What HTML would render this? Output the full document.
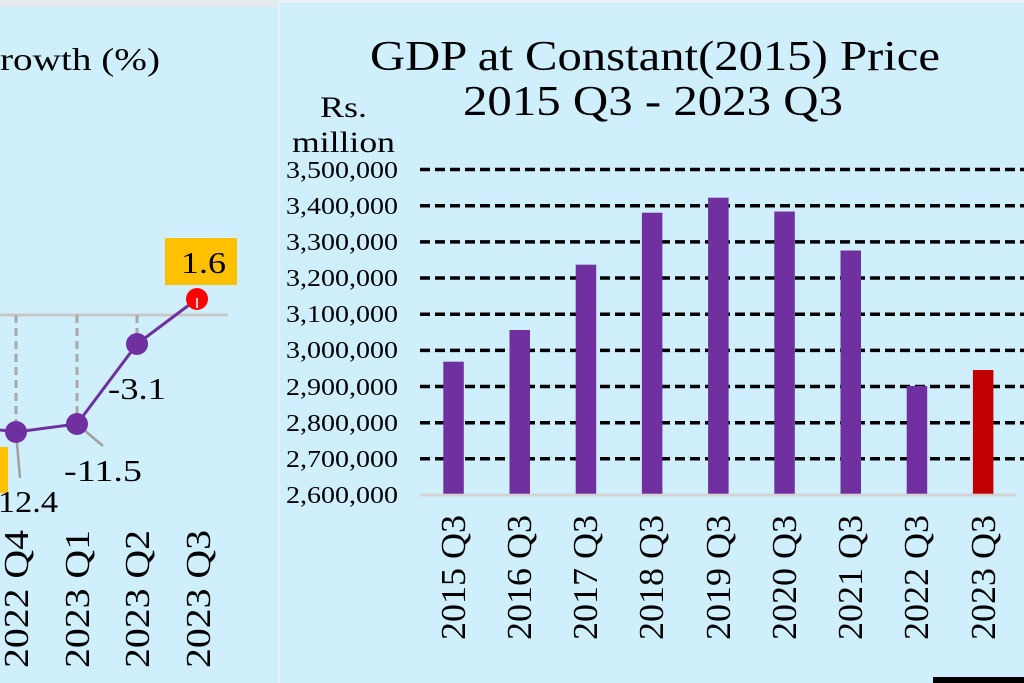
<!DOCTYPE html>
<html><head><meta charset="utf-8"><style>
html,body{margin:0;padding:0;background:#d0effd;}
svg{display:block;font-family:"Liberation Serif",serif;}
</style></head><body>
<svg width="1024" height="683" viewBox="0 0 1024 683" xmlns="http://www.w3.org/2000/svg">
<rect width="1024" height="683" fill="#d0effd"/>
<rect x="0" y="0" width="277" height="7" fill="#e4ebee"/>
<rect x="278" y="0" width="2" height="683" fill="#e8f2f6"/>
<rect x="280" y="0" width="744" height="3" fill="#e8f2f6"/>
<text x="0" y="70" font-size="32" textLength="160" lengthAdjust="spacingAndGlyphs">rowth (%)</text>
<line x1="0" y1="315" x2="228" y2="315" stroke="#c8c8c8" stroke-width="3"/>
<g stroke="#a8a8a8" stroke-width="3" stroke-dasharray="8,5">
<line x1="16" y1="315" x2="16" y2="432"/>
<line x1="77" y1="315" x2="77" y2="424"/>
<line x1="137" y1="315" x2="137" y2="344"/>
</g>
<polyline points="0,430 16,432 77,424 137,344 197,299" fill="none" stroke="#7030a0" stroke-width="3"/>
<g stroke="#a0a0a0" stroke-width="2.5">
<line x1="16" y1="432" x2="20" y2="478"/>
<line x1="77" y1="424" x2="103" y2="446"/>
<line x1="137" y1="344" x2="137" y2="335"/>
</g>
<circle cx="16" cy="432" r="11" fill="#7030a0"/>
<circle cx="77" cy="424" r="11" fill="#7030a0"/>
<circle cx="137" cy="344" r="11" fill="#7030a0"/>
<circle cx="197" cy="299" r="11" fill="#ff0000"/>
<line x1="197" y1="298" x2="197" y2="308" stroke="#d0d0d0" stroke-width="2"/>
<rect x="0" y="447" width="8" height="46" fill="#ffc000"/>
<rect x="165" y="238" width="72" height="47" fill="#ffc000"/>
<text x="181" y="273" font-size="31" textLength="45" lengthAdjust="spacingAndGlyphs">1.6</text>
<text x="108" y="399" font-size="31" textLength="58" lengthAdjust="spacingAndGlyphs">-3.1</text>
<text x="64" y="481" font-size="31" textLength="78" lengthAdjust="spacingAndGlyphs">-11.5</text>
<text x="-2" y="512" font-size="31" textLength="60" lengthAdjust="spacingAndGlyphs">12.4</text>
<g font-size="35">
<text transform="translate(28,668) rotate(-90)" textLength="138" lengthAdjust="spacingAndGlyphs">2022 Q4</text>
<text transform="translate(89,668) rotate(-90)" textLength="138" lengthAdjust="spacingAndGlyphs">2023 Q1</text>
<text transform="translate(149,668) rotate(-90)" textLength="138" lengthAdjust="spacingAndGlyphs">2023 Q2</text>
<text transform="translate(210,668) rotate(-90)" textLength="138" lengthAdjust="spacingAndGlyphs">2023 Q3</text>
</g>
<text x="370" y="70" font-size="42" textLength="570" lengthAdjust="spacingAndGlyphs">GDP at Constant(2015) Price</text>
<text x="463" y="115" font-size="42" textLength="380" lengthAdjust="spacingAndGlyphs">2015 Q3 - 2023 Q3</text>
<text x="320" y="117" font-size="30" textLength="47" lengthAdjust="spacingAndGlyphs">Rs.</text>
<text x="292" y="152" font-size="30" textLength="103" lengthAdjust="spacingAndGlyphs">million</text>
<g font-size="24" text-anchor="end">
<text x="398" y="178" textLength="112" lengthAdjust="spacingAndGlyphs">3,500,000</text>
<text x="398" y="214" textLength="112" lengthAdjust="spacingAndGlyphs">3,400,000</text>
<text x="398" y="250" textLength="112" lengthAdjust="spacingAndGlyphs">3,300,000</text>
<text x="398" y="286" textLength="112" lengthAdjust="spacingAndGlyphs">3,200,000</text>
<text x="398" y="322" textLength="112" lengthAdjust="spacingAndGlyphs">3,100,000</text>
<text x="398" y="358" textLength="112" lengthAdjust="spacingAndGlyphs">3,000,000</text>
<text x="398" y="395" textLength="112" lengthAdjust="spacingAndGlyphs">2,900,000</text>
<text x="398" y="431" textLength="112" lengthAdjust="spacingAndGlyphs">2,800,000</text>
<text x="398" y="467" textLength="112" lengthAdjust="spacingAndGlyphs">2,700,000</text>
<text x="398" y="503" textLength="112" lengthAdjust="spacingAndGlyphs">2,600,000</text>
</g>
<g stroke="#000" stroke-width="3.5" stroke-dasharray="10,5">
<line x1="420" y1="169.5" x2="1024" y2="169.5"/>
<line x1="420" y1="205.7" x2="1024" y2="205.7"/>
<line x1="420" y1="241.9" x2="1024" y2="241.9"/>
<line x1="420" y1="278" x2="1024" y2="278"/>
<line x1="420" y1="314.2" x2="1024" y2="314.2"/>
<line x1="420" y1="350.4" x2="1024" y2="350.4"/>
<line x1="420" y1="386.5" x2="1024" y2="386.5"/>
<line x1="420" y1="422.7" x2="1024" y2="422.7"/>
<line x1="420" y1="458.8" x2="1024" y2="458.8"/>
</g>
<line x1="420" y1="495" x2="1016" y2="495" stroke="#d4d4d4" stroke-width="3"/>
<g fill="#7030a0">
<rect x="443.3" y="361.7" width="20.5" height="132"/>
<rect x="509.5" y="330" width="20.5" height="163.7"/>
<rect x="575.7" y="264.7" width="20.5" height="229"/>
<rect x="641.9" y="212.7" width="20.5" height="281"/>
<rect x="708.1" y="197.7" width="20.5" height="296"/>
<rect x="774.3" y="211.5" width="20.5" height="282.2"/>
<rect x="840.5" y="250.5" width="20.5" height="243.2"/>
<rect x="906.7" y="386" width="20.5" height="107.7"/>
</g>
<rect x="972.9" y="370" width="20.5" height="123.7" fill="#c00000"/>
<g font-size="35">
<text transform="translate(465,640) rotate(-90)" textLength="125" lengthAdjust="spacingAndGlyphs">2015 Q3</text>
<text transform="translate(531,640) rotate(-90)" textLength="125" lengthAdjust="spacingAndGlyphs">2016 Q3</text>
<text transform="translate(597,640) rotate(-90)" textLength="125" lengthAdjust="spacingAndGlyphs">2017 Q3</text>
<text transform="translate(663,640) rotate(-90)" textLength="125" lengthAdjust="spacingAndGlyphs">2018 Q3</text>
<text transform="translate(730,640) rotate(-90)" textLength="125" lengthAdjust="spacingAndGlyphs">2019 Q3</text>
<text transform="translate(796,640) rotate(-90)" textLength="125" lengthAdjust="spacingAndGlyphs">2020 Q3</text>
<text transform="translate(862,640) rotate(-90)" textLength="125" lengthAdjust="spacingAndGlyphs">2021 Q3</text>
<text transform="translate(928,640) rotate(-90)" textLength="125" lengthAdjust="spacingAndGlyphs">2022 Q3</text>
<text transform="translate(995,640) rotate(-90)" textLength="125" lengthAdjust="spacingAndGlyphs">2023 Q3</text>
</g>
<rect x="933" y="677" width="91" height="6" fill="#000"/>
</svg>
</body></html>
